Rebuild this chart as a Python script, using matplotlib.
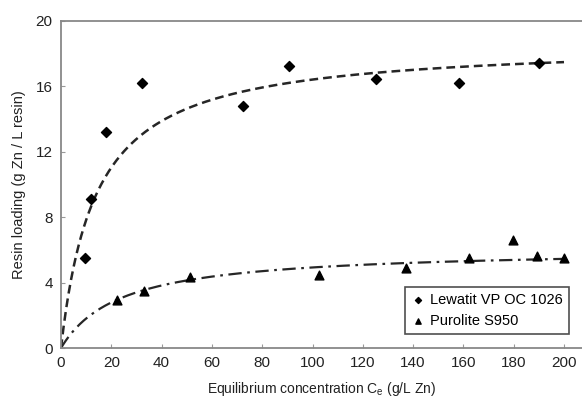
import numpy as np
import matplotlib
matplotlib.use("Agg")
import matplotlib.pyplot as plt

plt.rcParams['font.family'] = ['Liberation Sans', 'DejaVu Sans']
plt.rcParams['mathtext.fontset'] = 'custom'
plt.rcParams['mathtext.rm'] = 'Liberation Sans'

# Data
lew_x = [9.5, 11.9, 17.9, 32.3, 72.4, 90.8, 125.1, 158.4, 190.1]
lew_y = [5.52, 9.1, 13.2, 16.2, 14.8, 17.27, 16.45, 16.19, 17.41]
pur_x = [22.4, 33.1, 51.4, 102.6, 137.2, 162.2, 179.8, 189.4, 200.0]
pur_y = [2.94, 3.5, 4.36, 4.46, 4.87, 5.48, 6.6, 5.63, 5.48]

# Langmuir fit parameters (qmax, K)
lew_fit = (18.7, 0.072)
pur_fit = (6.1, 0.042)

x_ticks = [0, 20, 40, 60, 80, 100, 120, 140, 160, 180, 200]
y_ticks = [0, 4, 8, 12, 16, 20]
labels = ["Lewatit VP OC 1026", "Purolite S950"]

fig = plt.figure(figsize=(5.82, 3.98), dpi=100)
ax = fig.add_axes([61/582, 1 - 348/398, (582 - 61)/582, (348 - 21)/398])

c = np.linspace(0, 200, 400)
def langmuir(c, p):
    return p[0] * p[1] * c / (1 + p[1] * c)

ax.plot(c, langmuir(c, lew_fit), color='#262626', lw=1.8, dashes=(3.5, 2.0))
ax.plot(c, langmuir(c, pur_fit), color='#262626', lw=1.6, dashes=(6, 2.5, 1.2, 2.5))

ax.scatter(lew_x, lew_y, marker='D', s=26, color='black', zorder=3, label=labels[0])
ax.scatter(pur_x, pur_y, marker='^', s=40, color='black', zorder=3, label=labels[1])

ax.set_xlim(0, (582 - 61) / 2.515)
ax.set_ylim(0, 20)
ax.set_xticks(x_ticks)
ax.set_yticks(y_ticks)
ax.tick_params(direction='in', length=3, width=0.8, color='#999999',
               labelsize=11, labelcolor='#222222', pad=6)
for s in ['left', 'bottom', 'top']:
    ax.spines[s].set_color('#888888')
    ax.spines[s].set_linewidth(1.3)
ax.spines['right'].set_visible(False)

ax.set_xlabel("Equilibrium concentration C$_{\\mathregular{e}}$ (g/L Zn)", fontsize=10, color='#222222', labelpad=7)
ax.set_ylabel("Resin loading (g Zn / L resin)", fontsize=10.5, color='#222222', labelpad=7)

leg = ax.legend(loc='lower right', bbox_to_anchor=(576/582, 1 - 341/398),
                bbox_transform=fig.transFigure, frameon=True, fancybox=False,
                edgecolor='#222222', fontsize=10.5, markerscale=0.6,
                handletextpad=0.3, borderpad=0.4, labelspacing=0.45, handlelength=1.0)
leg.get_frame().set_linewidth(1.2)

fig.savefig("out.png", dpi=100, facecolor='white')
